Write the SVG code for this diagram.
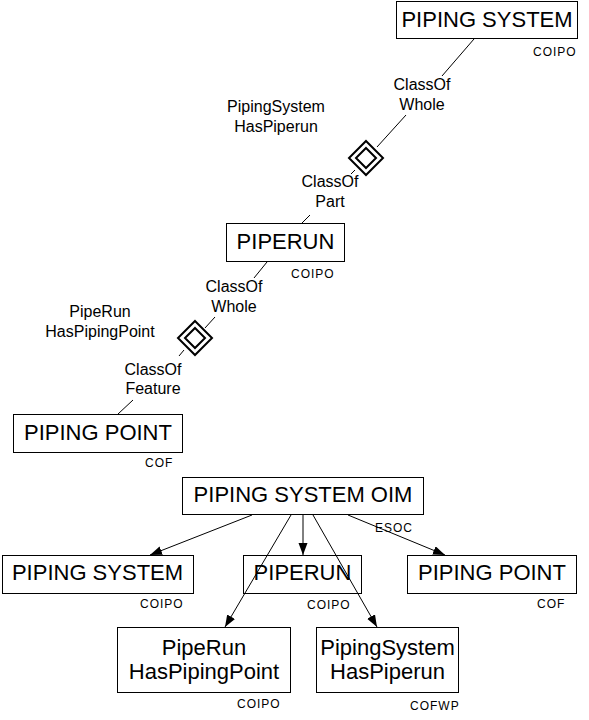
<svg xmlns="http://www.w3.org/2000/svg" width="589" height="720" viewBox="0 0 589 720">
<defs>
<style>
.box{fill:#fff;stroke:#000;stroke-width:1}
.big{font-family:"Liberation Sans",Arial,sans-serif;font-size:22px;fill:#000;text-anchor:middle}
.lbl{font-family:"Liberation Sans",Arial,sans-serif;font-size:16px;fill:#000;text-anchor:middle}
.sm{font-family:"Liberation Sans",Arial,sans-serif;font-size:12px;fill:#000;letter-spacing:1px}
.ln{stroke:#000;stroke-width:1;fill:none}
.dia{fill:#fff;stroke:#000;stroke-width:2}
</style>
<marker id="arr" markerUnits="userSpaceOnUse" markerWidth="13" markerHeight="10" refX="12" refY="4.5" orient="auto">
<path d="M0,0 L12,4.5 L0,9 z" fill="#000"/>
</marker>
</defs>
<rect width="589" height="720" fill="#fff"/>

<g id="agg1">
<path class="dia" d="M366,141 L383,158 L366,175 L349,158 z"/>
<path class="dia" d="M366,148 L376,158 L366,168 L356,158 z"/>
<text class="lbl" x="422" y="90">ClassOf</text>
<text class="lbl" x="422" y="110">Whole</text>
<text class="lbl" x="276" y="112">PipingSystem</text>
<text class="lbl" x="276" y="132">HasPiperun</text>
<text class="lbl" x="330" y="187">ClassOf</text>
<text class="lbl" x="330" y="207">Part</text>
</g>

<g id="agg2">
<path class="dia" d="M195,321 L212,338 L195,355 L178,338 z"/>
<path class="dia" d="M195,328 L205,338 L195,348 L185,338 z"/>
<text class="lbl" x="234" y="292">ClassOf</text>
<text class="lbl" x="234" y="312">Whole</text>
<text class="lbl" x="100" y="317">PipeRun</text>
<text class="lbl" x="100" y="337">HasPipingPoint</text>
<text class="lbl" x="153" y="375">ClassOf</text>
<text class="lbl" x="153" y="394">Feature</text>
</g>

<g id="top-piping-system">
<rect class="box" x="396.5" y="1.5" width="181" height="37"/>
<text class="big" x="487" y="27">PIPING SYSTEM</text>
<text class="sm" x="533" y="56">COIPO</text>
</g>

<g id="top-piperun">
<rect class="box" x="226.5" y="223.5" width="118" height="38"/>
<text class="big" x="285.5" y="249">PIPERUN</text>
<text class="sm" x="291" y="278">COIPO</text>
</g>

<g id="top-piping-point">
<rect class="box" x="13.5" y="414.5" width="169" height="38"/>
<text class="big" x="98" y="440">PIPING POINT</text>
<text class="sm" x="145" y="467">COF</text>
</g>

<g id="oim">
<rect class="box" x="182.5" y="477.5" width="241" height="37"/>
<text class="big" x="303" y="502">PIPING SYSTEM OIM</text>
</g>

<g id="piping-system">
<rect class="box" x="2.5" y="555.5" width="191" height="38"/>
<text class="big" x="97.5" y="580">PIPING SYSTEM</text>
<text class="sm" x="140" y="608">COIPO</text>
</g>

<g id="piperun">
<rect class="box" x="243.5" y="555.5" width="118" height="38"/>
<text class="big" x="302.5" y="580">PIPERUN</text>
<text class="sm" x="307" y="609">COIPO</text>
</g>

<g id="piping-point">
<rect class="box" x="407.5" y="555.5" width="169" height="38"/>
<text class="big" x="492" y="580">PIPING POINT</text>
<text class="sm" x="537" y="608">COF</text>
</g>

<g id="piperun-has-piping-point">
<rect class="box" x="117.5" y="627.5" width="173" height="65"/>
<text class="big" x="204" y="655">PipeRun</text>
<text class="big" x="204" y="679">HasPipingPoint</text>
<text class="sm" x="237" y="708">COIPO</text>
</g>

<g id="piping-system-has-piperun">
<rect class="box" x="316.5" y="627.5" width="142" height="65"/>
<text class="big" x="387.5" y="655">PipingSystem</text>
<text class="big" x="387.5" y="679">HasPiperun</text>
<text class="sm" x="410" y="710">COFWP</text>
</g>

<g id="connectors">
<line class="ln" x1="474" y1="39" x2="442" y2="76"/>
<line class="ln" x1="406" y1="115" x2="377" y2="147"/>
<line class="ln" x1="355" y1="170" x2="351" y2="174"/>
<line class="ln" x1="310" y1="215" x2="302" y2="223"/>
<line class="ln" x1="267" y1="262" x2="254" y2="278"/>
<line class="ln" x1="215" y1="317" x2="205" y2="328"/>
<line class="ln" x1="184" y1="350" x2="179" y2="356"/>
<line class="ln" x1="133" y1="400" x2="118" y2="414"/>
<line class="ln" x1="252" y1="515" x2="150" y2="555" marker-end="url(#arr)"/>
<line class="ln" x1="303" y1="515" x2="303" y2="555" marker-end="url(#arr)"/>
<line class="ln" x1="348" y1="515" x2="445" y2="555" marker-end="url(#arr)"/>
<line class="ln" x1="291" y1="515" x2="225" y2="627" marker-end="url(#arr)"/>
<line class="ln" x1="313" y1="515" x2="377" y2="627" marker-end="url(#arr)"/>
<text class="sm" x="375" y="532">ESOC</text>
</g>
</svg>
